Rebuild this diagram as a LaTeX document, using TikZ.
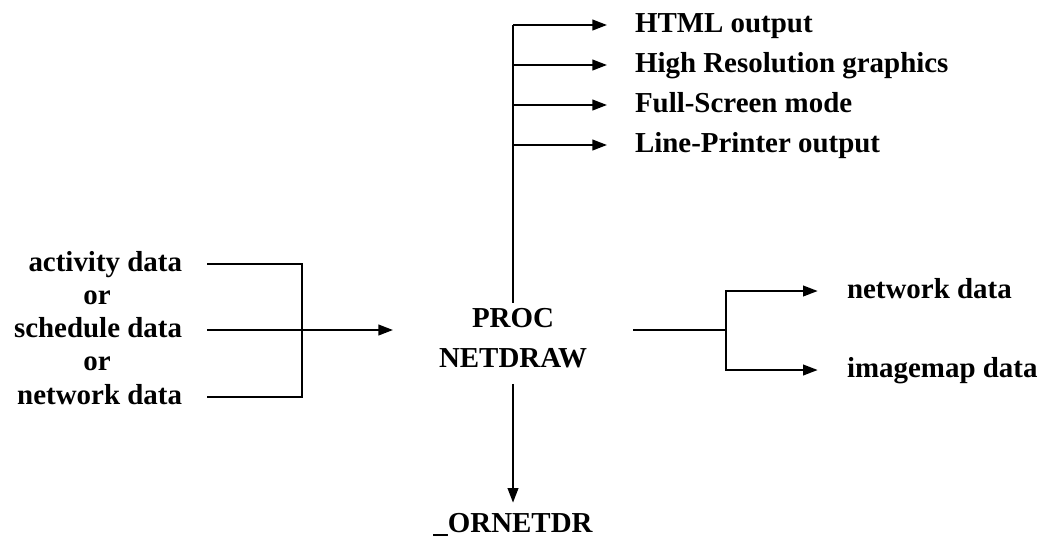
\documentclass[tikz,border=0pt]{standalone}
\usepackage{fontspec}
\setmainfont{Liberation Serif}
\usetikzlibrary{arrows.meta,positioning}

\begin{document}
\begin{tikzpicture}[x=0.75pt, y=-0.75pt,
  font=\fontsize{21.7}{30}\selectfont\bfseries,
  lbl/.style = {inner sep=0pt, outer sep=0pt, text height=15.2pt, text depth=4.3pt},
  flow/.style = {line width=1.5pt},
  arr/.style = {flow, -{Triangle[length=11pt, width=8pt]}}]
\useasboundingbox (0,0) rectangle (1041,554);
% the procedure
\node[inner sep=0pt, outer sep=0pt, minimum width=180pt, align=center] (proc) at (513,338) {PROC\\NETDRAW};
% inputs
\node[lbl, anchor=east] (act) at (182,264) {activity data};
\node[lbl] (or1) at (97,297) {or};
\node[lbl, anchor=east] (sched) at (182,330) {schedule data};
\node[lbl] (or2) at (97,363) {or};
\node[lbl, anchor=east] (netin) at (182,397) {network data};
\coordinate (jl) at (302,330);
% outputs on top
\coordinate (top) at (513,25);
\node[lbl, anchor=west] (html) at (635,25) {HTML output};
\node[lbl, anchor=west] (hires) at (635,65) {High Resolution graphics};
\node[lbl, anchor=west] (full) at (635,105) {Full-Screen mode};
\node[lbl, anchor=west] (lpt) at (635,145) {Line-Printer output};
% output data sets
\coordinate (jr) at (726,330);
\node[lbl, anchor=west] (netout) at (847,291) {network data};
\node[lbl, anchor=west] (imap) at (847,370) {imagemap data};
\node[lbl] (ornet) at (513,525) {\_ORNETDR};

\draw[flow, shorten <=19pt] (act) -| (jl);
\draw[flow, shorten <=19pt] (netin) -| (jl);
\draw[flow, shorten <=19pt] (sched) -- (jl);
\draw[arr] (jl) -- (jl -| proc.west);
\draw[flow, shorten <=4pt] (proc.north) -- (top);
\draw[arr, shorten >=21pt] (top) -- (html);
\draw[arr, shorten >=21pt] (top |- hires) -- (hires);
\draw[arr, shorten >=21pt] (top |- full) -- (full);
\draw[arr, shorten >=21pt] (top |- lpt) -- (lpt);
\draw[flow] (proc.east |- jr) -- (jr);
\draw[arr, shorten >=22pt] (jr) |- (netout);
\draw[arr, shorten >=22pt] (jr) |- (imap);
\draw[arr, shorten <=12pt, shorten >=7pt] (proc.south) -- (ornet);
\end{tikzpicture}
\end{document}
